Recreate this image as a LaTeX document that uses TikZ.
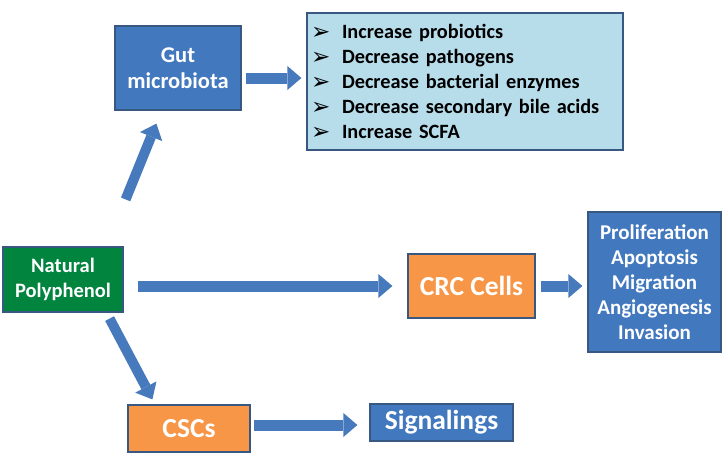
\documentclass[tikz,border=0pt]{standalone}
\usepackage{fontspec}
\setmainfont{Carlito}
\newfontfamily\bulletfont{DejaVu Sans}
\usetikzlibrary{arrows.meta,calc,positioning}
\definecolor{boxblue}{RGB}{66,120,190}
\definecolor{boxline}{RGB}{56,88,130}
\definecolor{boxorange}{RGB}{247,150,70}
\definecolor{boxgreen}{RGB}{0,132,62}
\definecolor{listblue}{RGB}{183,220,234}
\definecolor{arrowblue}{RGB}{70,122,188}
\newcommand{\listbullet}{\makebox[31pt][l]{\raisebox{-1pt}{\bulletfont\fontsize{23}{25}\selectfont ➢}}}
\tikzstyle{every node}=[font=\bfseries]
\tikzstyle{box}=[draw=boxline,line width=1.2pt,align=center,text=white,inner sep=0pt]
\tikzstyle{bluebox}=[box,fill=boxblue]
\tikzstyle{orangebox}=[box,fill=boxorange]
\tikzstyle{blockarrow}=[arrowblue,line width=11pt,-{Triangle[length=14pt,width=24pt,line width=0pt]}]

\begin{document}
\begin{tikzpicture}[x=1pt,y=-1pt]
  \useasboundingbox (0,0) rectangle (724,463);
  \node[bluebox,minimum width=126pt,minimum height=84pt,font=\bfseries\fontsize{22.5}{26}\selectfont]
    (gut) at (178,68) {Gut\\microbiota};
  \node[box,fill=listblue,text=black,align=left,minimum width=316pt,minimum height=137pt,
    text width=308pt,font=\bfseries\fontsize{20.3}{25}\selectfont]
    (list) at (465,81.5) {\listbullet Increase probiotics\\
      \listbullet Decrease pathogens\\
      \listbullet Decrease bacterial enzymes\\
      \listbullet Decrease secondary bile acids\\
      \listbullet Increase SCFA};
  \node[box,fill=boxgreen,minimum width=120pt,minimum height=65pt,font=\bfseries\fontsize{20.5}{25}\selectfont]
    (np) at (63,279.5) {Natural\\Polyphenol};
  \node[orangebox,minimum width=127pt,minimum height=64pt,font=\bfseries\fontsize{27.5}{30}\selectfont]
    (crc) at (471.5,286) {CRC Cells};
  \node[bluebox,minimum width=133pt,minimum height=140pt,font=\bfseries\fontsize{21}{25}\selectfont]
    (effects) at (654.5,282) {Proliferation\\Apoptosis\\Migration\\Angiogenesis\\Invasion};
  \node[orangebox,minimum width=122pt,minimum height=47pt,font=\bfseries\fontsize{27.5}{30}\selectfont]
    (cscs) at (189,428.5) {CSCs};
  \node[bluebox,minimum width=143pt,minimum height=37pt,font=\bfseries\fontsize{27.5}{30}\selectfont]
    (sig) at (441.5,422.5) {Signalings};
  % arrows
  \draw[blockarrow,shorten <=4pt,shorten >=5pt]
    ([yshift=-10pt]gut.east) -- ([yshift=-10pt]gut.east -| list.west);
  \draw[blockarrow,shorten <=14pt,shorten >=15pt] (np.east |- crc.west) -- (crc.west);
  \draw[blockarrow,shorten <=5pt,shorten >=5pt] (crc.east) -- (crc.east -| effects.west);
  \draw[blockarrow,shorten <=3pt,shorten >=12pt]
    ([yshift=3.5pt]cscs.east) -- ([yshift=3.5pt]cscs.east -| sig.west);
  \draw[blockarrow,line width=10pt] ([xshift=2pt,yshift=47pt]np.north east) -- ([xshift=42pt,yshift=-13pt]gut.south west);
  \draw[blockarrow,line width=10pt] ([xshift=-14pt,yshift=-6pt]np.south east) -- ([xshift=25pt,yshift=5pt]cscs.north west);
\end{tikzpicture}
\end{document}
